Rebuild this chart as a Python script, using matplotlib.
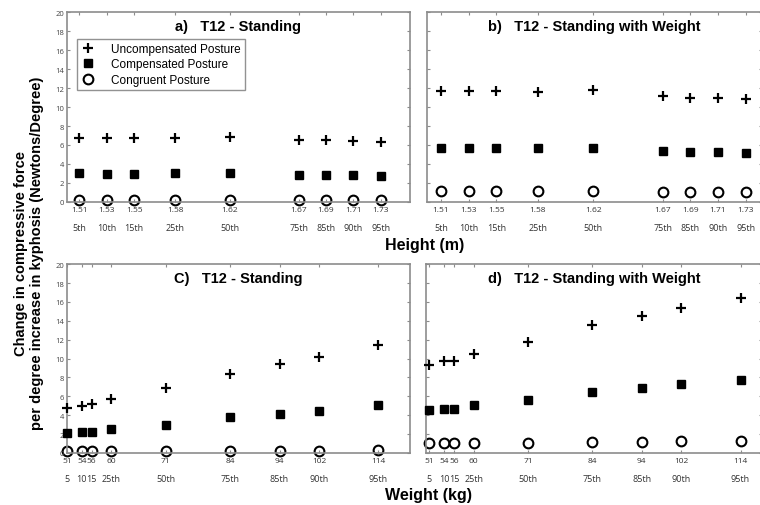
import matplotlib
matplotlib.use("Agg")
import matplotlib.pyplot as plt
import matplotlib.transforms as mtransforms

# x values
heights = [1.51, 1.53, 1.55, 1.58, 1.62, 1.67, 1.69, 1.71, 1.73]
weights = [51, 54, 56, 60, 71, 84, 94, 102, 114]
height_pct = ["5th", "10th", "15th", "25th", "50th", "75th", "85th", "90th", "95th"]
weight_pct = ["5", "10", "15", "25th", "50th", "75th", "85th", "90th", "95th"]

# a) T12 - Standing (height)
a_uncomp = [6.7, 6.75, 6.75, 6.7, 6.85, 6.5, 6.5, 6.4, 6.35]
a_comp = [3.0, 2.95, 2.95, 3.0, 3.0, 2.85, 2.85, 2.8, 2.75]
a_congr = [0.2, 0.2, 0.2, 0.2, 0.25, 0.15, 0.15, 0.15, 0.15]

# b) T12 - Standing with Weight (height)
b_uncomp = [11.7, 11.7, 11.7, 11.6, 11.75, 11.15, 11.0, 10.9, 10.8]
b_comp = [5.7, 5.7, 5.65, 5.65, 5.7, 5.35, 5.3, 5.25, 5.2]
b_congr = [1.15, 1.15, 1.15, 1.15, 1.2, 1.05, 1.0, 1.0, 1.0]

# c) T12 - Standing (weight)
c_uncomp = [4.75, 5.0, 5.15, 5.7, 6.9, 8.4, 9.4, 10.15, 11.4]
c_comp = [2.1, 2.2, 2.25, 2.5, 3.0, 3.75, 4.15, 4.45, 5.1]
c_congr = [0.15, 0.15, 0.15, 0.15, 0.2, 0.25, 0.25, 0.25, 0.35]

# d) T12 - Standing with Weight (weight)
d_uncomp = [9.35, 9.7, 9.75, 10.5, 11.8, 13.5, 14.5, 15.3, 16.4]
d_comp = [4.5, 4.65, 4.7, 5.1, 5.65, 6.5, 6.9, 7.25, 7.75]
d_congr = [1.0, 1.0, 1.0, 1.05, 1.1, 1.2, 1.2, 1.25, 1.3]

TICK_FONT = "Open Sans"
TITLE_FONT = "Liberation Sans"
SPINE = "#8c8c8c"


def setup_panel(ax, xs, pct, xlim, title, ylabels):
    ax.set_xlim(*xlim)
    ax.set_ylim(0, 20)
    ax.set_yticks(range(0, 21, 2))
    ax.set_xticks(xs)
    ax.set_xticklabels([str(x) for x in xs], fontsize=6, family=TICK_FONT, color="#333333")
    if ylabels:
        ax.set_yticklabels([str(v) for v in range(0, 21, 2)], fontsize=5.5, family=TICK_FONT, color="#444444")
    else:
        ax.set_yticklabels([])
    ax.tick_params(direction="in", length=2.5, width=0.8, color=SPINE, top=True, right=True, pad=2)
    ax.tick_params(axis="x", pad=3)
    for s in ax.spines.values():
        s.set_color(SPINE)
        s.set_linewidth(1.2)
    trans = mtransforms.blended_transform_factory(ax.transData, ax.transAxes)
    for x, p in zip(xs, pct):
        ax.text(x, -0.135, p, transform=trans, ha="center", va="center",
                fontsize=6.5, family=TICK_FONT, color="#333333")
    ax.text(0.5, 0.925, title, transform=ax.transAxes, ha="center", va="center",
            fontsize=10.5, fontweight="bold", family=TITLE_FONT)


def draw_points(ax, xs, unc, comp, cong):
    ax.plot(xs, unc, linestyle="none", marker="+", ms=7, mew=1.6, color="black",
            label="Uncompensated Posture", clip_on=False, zorder=3)
    ax.plot(xs, comp, linestyle="none", marker="s", ms=5.8, color="black",
            label="Compensated Posture", clip_on=False, zorder=3)
    ax.plot(xs, cong, linestyle="none", marker="o", ms=7, mew=1.5, mfc="white", mec="black",
            label="Congruent Posture", clip_on=False, zorder=1)


fig = plt.figure(figsize=(7.6, 5.06), dpi=100)

ax_a = fig.add_axes([0.088, 0.599, 0.451, 0.375])
ax_b = fig.add_axes([0.562, 0.599, 0.441, 0.375])
ax_c = fig.add_axes([0.088, 0.103, 0.451, 0.373])
ax_d = fig.add_axes([0.561, 0.103, 0.442, 0.373])

draw_points(ax_a, heights, a_uncomp, a_comp, a_congr)
setup_panel(ax_a, heights, height_pct, (1.501, 1.751), "a)   T12 - Standing", True)

draw_points(ax_b, heights, b_uncomp, b_comp, b_congr)
setup_panel(ax_b, heights, height_pct, (1.50, 1.742), "b)   T12 - Standing with Weight", False)

draw_points(ax_c, weights, c_uncomp, c_comp, c_congr)
setup_panel(ax_c, weights, weight_pct, (51, 120.3), "C)   T12 - Standing", True)

draw_points(ax_d, weights, d_uncomp, d_comp, d_congr)
setup_panel(ax_d, weights, weight_pct, (50.4, 118.4), "d)   T12 - Standing with Weight", False)

leg = ax_a.legend(loc="upper left", bbox_to_anchor=(0.03, 0.86),
                  prop={"family": TITLE_FONT, "size": 8.5}, frameon=True, fancybox=False,
                  edgecolor="#777777", handlelength=1.2, handletextpad=1.3,
                  borderpad=0.35, labelspacing=0.3, borderaxespad=0)
leg.get_frame().set_linewidth(1.0)

fig.text(0.038, 0.5, "Change in compressive force\nper degree increase in kyphosis (Newtons/Degree)",
         rotation=90, ha="center", va="center", fontsize=10.5, fontweight="bold",
         family=TITLE_FONT, linespacing=1.15)
fig.text(0.506, 0.514, "Height (m)", ha="left", va="center", fontsize=11.5,
         fontweight="bold", family=TITLE_FONT)
fig.text(0.506, 0.02, "Weight (kg)", ha="left", va="center", fontsize=11.5,
         fontweight="bold", family=TITLE_FONT)

fig.savefig("out.png", dpi=100)
